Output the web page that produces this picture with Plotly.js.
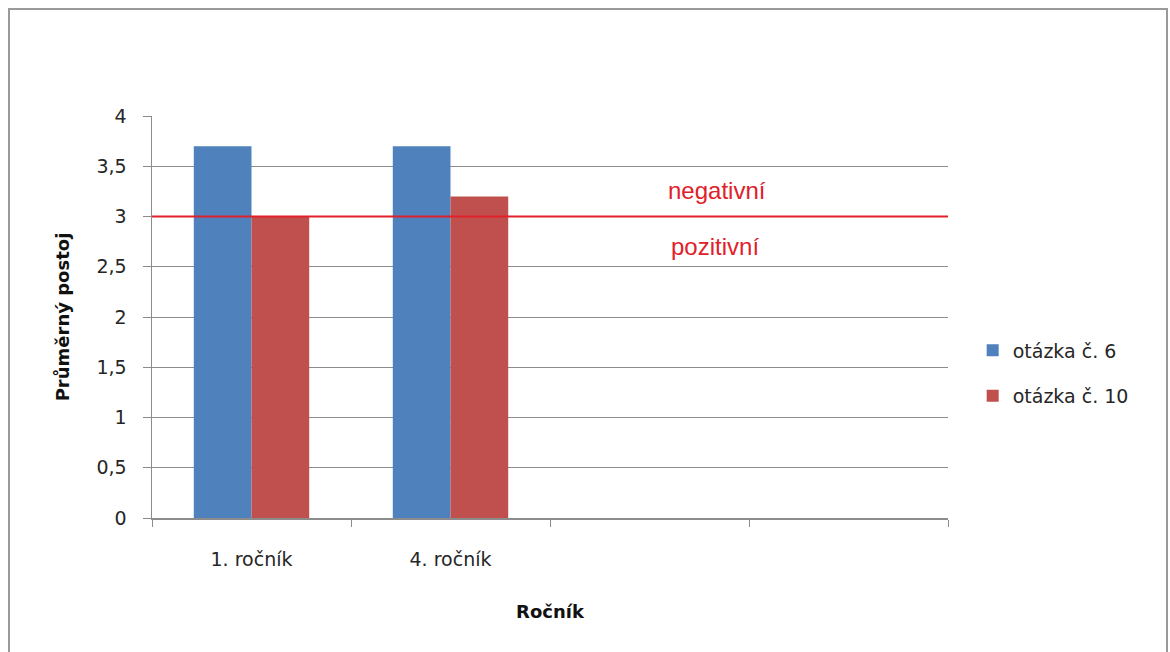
<!DOCTYPE html>
<html>
<head>
<meta charset="utf-8">
<script src="https://cdn.plot.ly/plotly-3.0.1.min.js"></script>
<style>
  html, body { margin: 0; padding: 0; background: #fff; }
  #wrap { position: relative; width: 1170px; height: 652px; overflow: hidden; }
  #chart { position: absolute; left: 0; top: 0; width: 1170px; height: 652px; }
  #frame {
    position: absolute; left: 8px; top: 8px; width: 1160px; height: 700px;
    border: 2px solid #9a9a9a; pointer-events: none; box-sizing: border-box;
  }
</style>
</head>
<body>
<div id="wrap">
  <div id="chart"></div>
  <div id="frame"></div>
</div>
<script>
// Year groups (the last two slots are left empty on the axis)
const categories = ['1. ročník', '4. ročník', ' ', '  '];
// Average attitude per question
const q6Values  = [3.7, 3.7, null, null];
const q10Values = [3.0, 3.2, null, null];
const seriesNames = ['otázka č. 6', 'otázka č. 10'];
const thresholdValue = 3;
const yTicks = [0, 0.5, 1, 1.5, 2, 2.5, 3, 3.5, 4];

const labelFont = '"DejaVu Sans", Verdana, sans-serif';
const noteFont = '"Liberation Sans", Arial, sans-serif';
const gridColor = '#8c8c8c';
const textColor = '#262626';
const noteColor = '#e0202a';

const traces = [
  {
    type: 'bar', name: seriesNames[0], x: categories, y: q6Values,
    marker: { color: '#4f81bd' }, legendgroup: 'a', hoverinfo: 'x+y'
  },
  {
    type: 'bar', name: seriesNames[1], x: categories, y: q10Values,
    marker: { color: '#c0504d' }, legendgroup: 'b', hoverinfo: 'x+y'
  }
];

const layout = {
  width: 1170, height: 652,
  margin: { l: 152, r: 222, t: 116, b: 134 },
  paper_bgcolor: '#fff', plot_bgcolor: '#fff',
  separators: ', ',
  barmode: 'group', bargap: 0.42, bargroupgap: 0,
  font: { family: labelFont, size: 19, color: textColor },
  showlegend: true,
  legend: {
    x: 1.031, xanchor: 'left', y: 0.36, yanchor: 'middle',
    traceorder: 'grouped', tracegroupgap: 18,
    font: { family: labelFont, size: 19, color: textColor },
    bgcolor: 'rgba(0,0,0,0)'
  },
  xaxis: {
    type: 'category',
    categoryorder: 'array', categoryarray: categories,
    range: [-0.5, 3.5],
    tickson: 'boundaries',
    ticks: 'outside', ticklen: 7, tickcolor: gridColor, tickwidth: 1,
    ticklabelstandoff: 24,
    showline: true, linecolor: gridColor, linewidth: 1.5,
    showgrid: false, zeroline: false, fixedrange: true,
    tickfont: { family: labelFont, size: 19, color: textColor },
    title: {
      text: '<b>Ročník</b>', standoff: 36,
      font: { family: labelFont, size: 18, color: '#111' }
    }
  },
  yaxis: {
    range: [0, 4],
    tickmode: 'array', tickvals: yTicks,
    ticks: 'outside', ticklen: 8, tickcolor: gridColor, tickwidth: 1,
    ticklabelstandoff: 12,
    showline: true, linecolor: gridColor, linewidth: 1.5,
    showgrid: true, gridcolor: gridColor, gridwidth: 1,
    zeroline: false, fixedrange: true,
    tickfont: { family: labelFont, size: 19, color: textColor },
    title: {
      text: '<b>Průměrný postoj</b>', standoff: 22,
      font: { family: labelFont, size: 18, color: '#111' }
    }
  },
  shapes: [
    {
      // threshold between positive and negative attitude, drawn over the bars
      type: 'line', layer: 'above',
      xref: 'paper', x0: 0, x1: 1,
      yref: 'y', y0: thresholdValue, y1: thresholdValue,
      line: { color: noteColor, width: 2 }
    }
  ],
  annotations: [
    {
      text: 'negativní', xref: 'x', x: 2.34, yref: 'y', y: 3.26,
      showarrow: false,
      font: { family: noteFont, size: 24, color: noteColor }
    },
    {
      text: 'pozitivní', xref: 'x', x: 2.33, yref: 'y', y: 2.7,
      showarrow: false,
      font: { family: noteFont, size: 24, color: noteColor }
    }
  ]
};

Plotly.newPlot('chart', traces, layout, { displayModeBar: false, staticPlot: true });
</script>
</body>
</html>
